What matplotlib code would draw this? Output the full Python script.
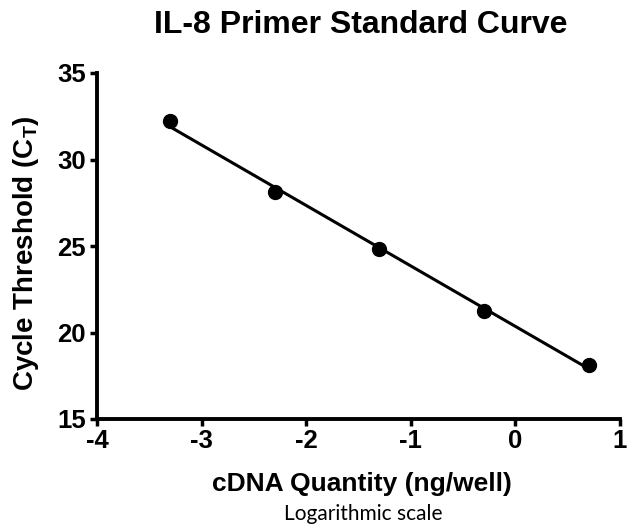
import numpy as np
import matplotlib
matplotlib.use("Agg")
import matplotlib.pyplot as plt

# data
log_qty = [-3.301, -2.301, -1.301, -0.301, 0.699]
ct = [32.2, 28.1, 24.8, 21.25, 18.15]
xticks = [-4, -3, -2, -1, 0, 1]
yticks = [15, 20, 25, 30, 35]

plt.rcParams['font.family'] = ['Liberation Sans', 'DejaVu Sans']

W, H = 627, 528
fig = plt.figure(figsize=(W / 100, H / 100), dpi=100)
ax = fig.add_axes([97 / W, 1 - 419 / H, (620 - 97) / W, (419 - 73) / H])

# linear regression
slope, icpt = np.polyfit(log_qty, ct, 1)
xf = np.array([min(log_qty), max(log_qty)])
ax.plot(xf, slope * xf + icpt, color='black', lw=2.2, zorder=2)
ax.plot(log_qty, ct, 'o', color='black', ms=10, zorder=3, clip_on=False)

ax.set_xlim(-4, 1)
ax.set_ylim(15, 35)
ax.set_xticks(xticks)
ax.set_yticks(yticks)
ax.set_xticklabels([str(v) for v in xticks])
ax.set_yticklabels([str(v) for v in yticks])

for s in ['top', 'right']:
    ax.spines[s].set_visible(False)
for s in ['left', 'bottom']:
    ax.spines[s].set_linewidth(2.8)
ax.tick_params(width=2.5, length=5, labelsize=18.5)
ax.tick_params(axis='x', pad=2)
ax.tick_params(axis='y', pad=3)
for lab in ax.get_xticklabels() + ax.get_yticklabels():
    lab.set_fontweight('bold')

fig.text(361 / W, 1 - 33 / H, 'IL-8 Primer Standard Curve', ha='center', va='baseline',
         fontsize=23, fontweight='bold')
fig.text(362 / W, 1 - 484 / H, 'cDNA Quantity (ng/well)', ha='center', va='center',
         fontsize=19, fontweight='bold')
fig.text(26 / W, 1 - 253 / H, r'Cycle Threshold (C$_\mathregular{T}$)', ha='center', va='center',
         rotation=90, fontsize=20, fontweight='bold')
fig.text(363 / W, 1 - 514 / H, 'Logarithmic scale', ha='center', va='center',
         fontsize=15, family=['Lato', 'DejaVu Sans'])

fig.savefig('out.png', dpi=100)
